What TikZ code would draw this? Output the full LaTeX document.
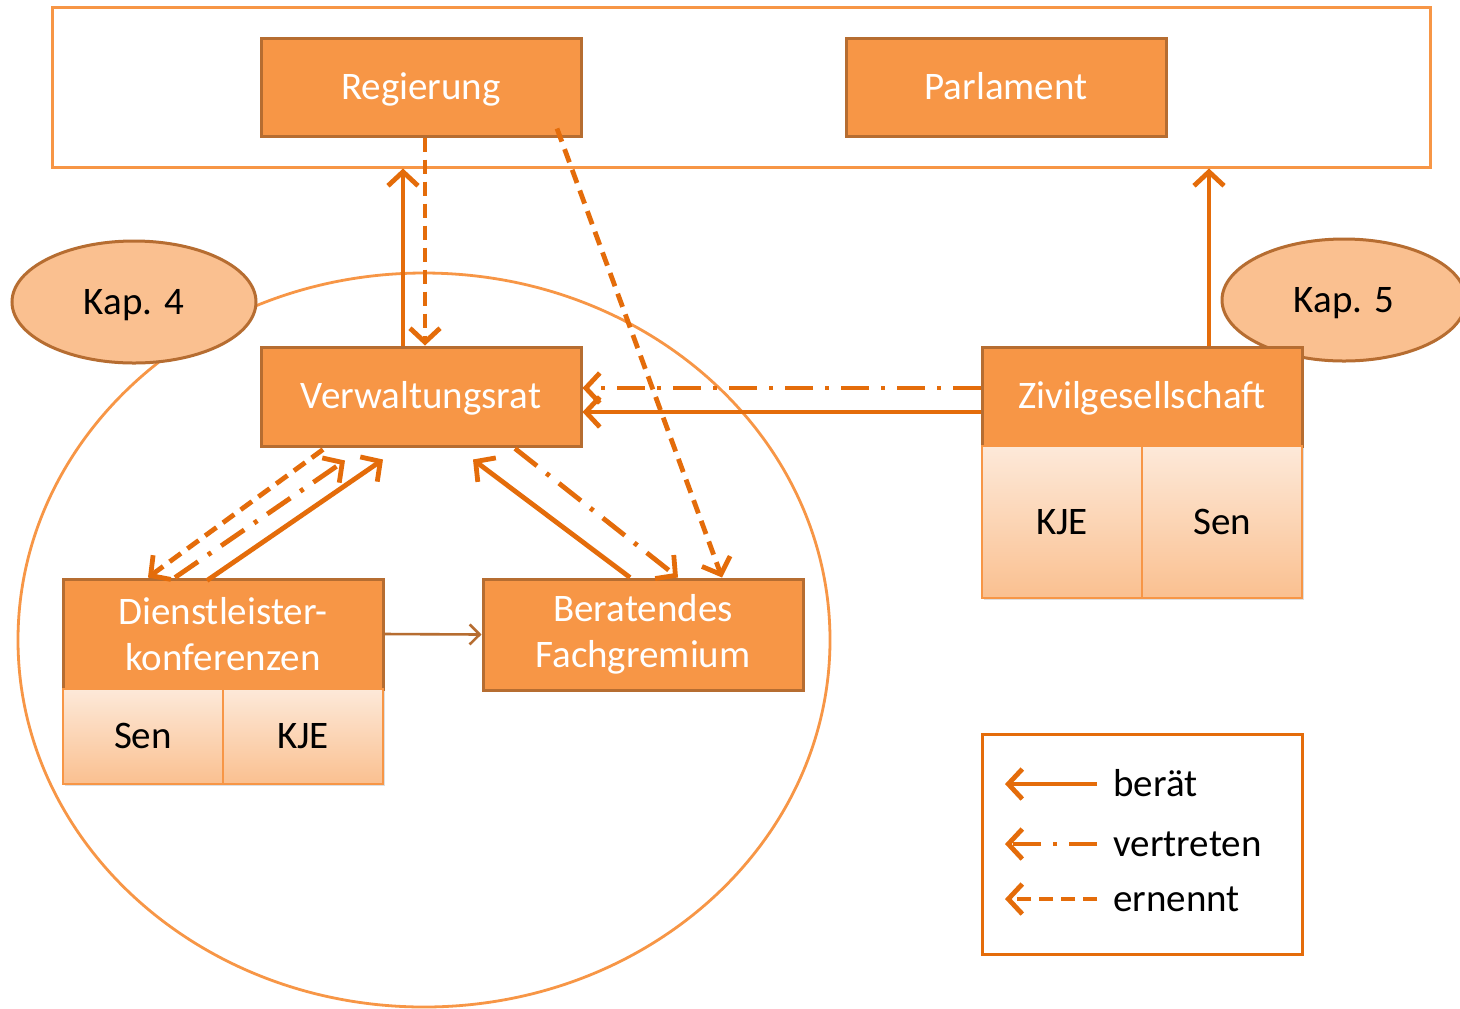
\documentclass[tikz,border=0pt]{standalone}
\usepackage{fontspec}
\setmainfont{Carlito}
\usetikzlibrary{arrows.meta,shapes.geometric,shadows}
\definecolor{boxfill}{HTML}{F79646}
\definecolor{boxline}{HTML}{B66D31}
\definecolor{arr}{HTML}{E46C0A}
\definecolor{subtop}{HTML}{FDE9D9}
\definecolor{subbot}{HTML}{FAC090}
\tikzset{
  fnt/.style={font=\fontsize{19.5}{23}\selectfont},
  txt/.style={fnt, text height=15pt, text depth=3pt},
  mainbox/.style={draw=boxline, line width=1.5pt, fill=boxfill, text=white, minimum width=160pt, inner sep=0pt, align=center, fnt},
  subbox/.style={draw=boxfill, line width=0.8pt, top color=subtop, bottom color=subbot, text=black, minimum width=80pt, inner sep=0pt, txt, drop shadow={opacity=0.25, shadow xshift=1pt, shadow yshift=-1pt}},
  kap/.style={ellipse, draw=boxline, line width=1.5pt, fill=subbot, minimum width=122pt, minimum height=61pt, inner sep=0pt, txt},
  tip/.style={-{Straight Barb[length=7pt,width=15pt,line width=2.4pt]}},
  berat/.style={draw=arr, line width=2.4pt, tip},
  vertr/.style={draw=arr, line width=2.4pt, tip, dash pattern=on 14pt off 6pt on 2pt off 6pt},
  ernennt/.style={draw=arr, line width=2.4pt, tip, dash pattern=on 7pt off 4pt},
  legtext/.style={anchor=west, inner sep=0pt, txt}
}
\begin{document}
\begin{tikzpicture}[x=0.5pt,y=-0.5pt]
\useasboundingbox (0,0) rectangle (1460,1008);
\clip (0,0) rectangle (1460,1008);
\fill[white] (0,0) rectangle (1460,1008);
% frame and big circle
\node[draw=boxfill, line width=1.5pt, minimum width=689pt, minimum height=80pt, inner sep=0pt] (top) at (741,87) {};
\node[ellipse, draw=boxfill, line width=1.4pt, minimum width=406pt, minimum height=367pt, inner sep=0pt] (circ) at (424,640) {};
% chapter ellipses
\node[kap] (kap4) at (134,302) {Kap. 4};
\node[kap] (kap5) at (1344,300) {Kap. 5};
% boxes
\node[mainbox, txt, minimum height=49pt] (reg) at (421,87) {Regierung};
\node[mainbox, txt, minimum height=49pt] (parl) at (1006,87) {Parlament};
\node[mainbox, txt, minimum height=49.5pt] (verw) at (421,396.5) {Verwaltungsrat};
\node[mainbox, txt, minimum height=49.5pt] (ziv) at (1142,396.5) {Zivilgesellschaft};
\node[subbox, minimum height=76pt] (zkje) at (1062,522) {KJE};
\node[subbox, minimum height=76pt] (zsen) at (1222,522) {Sen};
\node[mainbox, minimum height=55pt] (dienst) at (223,634) {Dienstleister-\\konferenzen};
\node[subbox, minimum height=47.5pt] (dsen) at (143,736.5) {Sen};
\node[subbox, minimum height=47.5pt] (dkje) at (303,736.5) {KJE};
\node[mainbox, minimum height=55.5pt] (fach) at (643,634.5) {Beratendes\\Fachgremium};
% connectors
\draw[berat] ([xshift=-9pt]verw.north) -- ([xshift=-9pt]verw.north |- top.south);
\draw[ernennt] ([xshift=2pt]reg.south) -- ([xshift=2pt]verw.north);
\draw[ernennt] ([xshift=68pt,yshift=4.5pt]reg.south) -- ([xshift=39.5pt]fach.north);
\draw[berat] ([xshift=33.5pt]ziv.north) -- ([xshift=33.5pt]ziv.north |- top.south);
\draw[vertr] ([yshift=4.25pt]ziv.west) -- ([yshift=4.25pt]verw.east);
\draw[berat] ([yshift=-7.75pt]ziv.west) -- ([yshift=-7.75pt]verw.east);
\draw[ernennt] ([xshift=-49pt,yshift=-1pt]verw.south) -- ([xshift=-37.5pt]dienst.north);
\draw[vertr] ([xshift=-24pt]dienst.north) -- ([xshift=-38pt,yshift=-6.5pt]verw.south);
\draw[berat] ([xshift=-8pt,yshift=-1.5pt]dienst.north) -- ([xshift=-19pt,yshift=-6pt]verw.south);
\draw[berat] ([xshift=-6.5pt]fach.north) -- ([xshift=26pt,yshift=-6pt]verw.south);
\draw[vertr] ([xshift=47pt,yshift=-0.5pt]verw.south) -- ([xshift=17.5pt]fach.north);
\draw[draw=boxline, line width=1.3pt, -{Straight Barb[length=5pt,width=10pt,line width=1.3pt]}] (dienst.east) -- (fach.west);
% legend
\node[draw=arr, line width=1.5pt, minimum width=160pt, minimum height=110pt, inner sep=0pt] (leg) at (1142,844) {};
\coordinate (l1s) at (1097,784); \coordinate (l1e) at (1005,784);
\coordinate (l2s) at (1097,844); \coordinate (l2e) at (1005,844);
\coordinate (l3s) at (1097,899); \coordinate (l3e) at (1005,899);
\draw[berat] (l1s) -- (l1e);
\draw[vertr] (l2s) -- (l2e);
\draw[ernennt] (l3s) -- (l3e);
\node[legtext] (t1) at (1113,784) {berät};
\node[legtext] (t2) at (1113,844) {vertreten};
\node[legtext] (t3) at (1113,899) {ernennt};
\end{tikzpicture}
\end{document}
